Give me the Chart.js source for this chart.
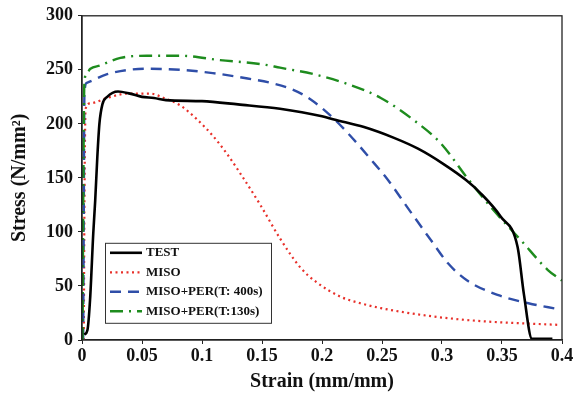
<!DOCTYPE html>
<html>
<head>
<meta charset="utf-8">
<script src="https://cdn.jsdelivr.net/npm/chart.js@4.4.1/dist/chart.umd.min.js"></script>
<style>
html,body{margin:0;padding:0;background:#fff;}
#wrap{width:579px;height:395px;position:relative;}
</style>
</head>
<body>
<div id="wrap"><canvas id="c" width="579" height="395"></canvas></div>
<script>
// ---- Data ----
const seriesLabels = ["TEST", "MISO", "MISO+PER(T: 400s)", "MISO+PER(T:130s)"];

const testStrain = [0.002,0.0045,0.0067,0.0094,0.011,0.0128,0.0145,0.017,0.021,0.030,0.040,0.050,0.060,0.070,0.100,0.130,0.165,0.200,0.210,0.235,0.260,0.280,0.301,0.320,0.332,0.349,0.363,0.3683,0.375,0.392];
const testStress = [5,9,37,99,129,170,200,218,225,230,228,225,224,222,221,218,214,207,204,197,187,177,163,148,136,114,86,42,1,1];

const misoStrain = [0.0015,0.002,0.003,0.007,0.021,0.038,0.057,0.068,0.082,0.096,0.109,0.121,0.132,0.1486,0.165,0.182,0.196,0.2155,0.232,0.249,0.291,0.332,0.397];
const misoStress = [0,120,214,219,224,228,228,224,217,204,189,172,154,125,94,67,53,40,34,29.5,22,17.5,14];

const per400Strain = [0.001,0.0015,0.002,0.004,0.021,0.054,0.082,0.109,0.138,0.157,0.175,0.190,0.2096,0.226,0.240,0.255,0.271,0.291,0.305,0.321,0.347,0.372,0.397];
const per400Stress = [0,120,228,238,246,251,250,247,242,238,232,223,205,186,168,148,123,92,71,55,41.5,34,28.6];

const per130Strain = [0.0005,0.001,0.002,0.004,0.007,0.015,0.032,0.054,0.082,0.115,0.151,0.165,0.193,0.221,0.249,0.277,0.299,0.321,0.343,0.366,0.388,0.400];
const per130Stress = [0,120,238,247,251,254,261,263,263,259,255,252,246,237,224,203,182,150,120,92,65,55];

const xTicks = [0,0.05,0.1,0.15,0.2,0.25,0.3,0.35,0.4];
const yTicks = [0,50,100,150,200,250,300];

// ---- build ----
const pts = (xs, ys) => xs.map((x, i) => ({x: x, y: ys[i]}));
const styles = [
  {color:'#000000', width:2.6, dash:[]},
  {color:'#e8302a', width:2.2, dash:[2,3.5]},
  {color:'#2f4ea8', width:2.4, dash:[11,7]},
  {color:'#1e8c1e', width:2.4, dash:[13,6,2,6]}
];
const allData = [pts(testStrain,testStress), pts(misoStrain,misoStress), pts(per400Strain,per400Stress), pts(per130Strain,per130Stress)];
const datasets = allData.map((d,i)=>({
  label: seriesLabels[i], data: d,
  borderColor: styles[i].color, backgroundColor: styles[i].color,
  borderWidth: styles[i].width, borderDash: styles[i].dash,
  pointRadius: 0, fill: false, cubicInterpolationMode: 'monotone',
  order: i===0 ? 0 : 4-i
}));

const serif = "'Liberation Serif','Times New Roman',serif";

const framePlugin = {
  id: 'frame',
  afterDatasetsDraw(chart) {
    const {ctx, chartArea: a} = chart;
    ctx.save();
    ctx.strokeStyle = '#222';
    ctx.lineWidth = 1.3;
    ctx.strokeRect(a.left, a.top, a.right - a.left, a.bottom - a.top);
    ctx.restore();
  }
};

const legendPlugin = {
  id: 'boxLegend',
  afterDraw(chart) {
    const {ctx, chartArea: a} = chart;
    const bx = a.left + 23, by = a.top + 227, bw = 166, bh = 80;
    ctx.save();
    ctx.fillStyle = '#fff';
    ctx.fillRect(bx, by, bw, bh);
    ctx.strokeStyle = '#333';
    ctx.lineWidth = 1;
    ctx.strokeRect(bx + 0.5, by + 0.5, bw, bh);
    ctx.font = "bold 13px " + serif;
    ctx.textBaseline = 'middle';
    ctx.fillStyle = '#111';
    chart.data.datasets.forEach((ds, i) => {
      const y = by + 10 + i * 19.5;
      ctx.beginPath();
      ctx.strokeStyle = ds.borderColor;
      ctx.lineWidth = ds.borderWidth;
      ctx.setLineDash(ds.borderDash);
      ctx.moveTo(bx + 5, y);
      ctx.lineTo(bx + 37, y);
      ctx.stroke();
      ctx.setLineDash([]);
      ctx.fillStyle = '#111';
      ctx.fillText(ds.label, bx + 41, y);
    });
    ctx.restore();
  }
};

new Chart(document.getElementById('c'), {
  type: 'line',
  data: { datasets: datasets },
  options: {
    responsive: false,
    animation: false,
    layout: { padding: { left: 0, right: 17, top: 15, bottom: 0 } },
    plugins: { legend: { display: false }, tooltip: { enabled: false } },
    scales: {
      x: {
        type: 'linear', min: 0, max: 0.4,
        afterBuildTicks: s => { s.ticks = xTicks.map(v => ({value: v})); },
        afterFit: s => { s.height = 55; },
        ticks: { font: { family: serif, size: 18, weight: 'bold' }, color: '#111', padding: 2, maxRotation: 0,
                 callback: v => String(+v.toFixed(2)) },
        grid: { display: true, drawOnChartArea: false, drawTicks: true, tickLength: 4, color: '#222' },
        border: { display: true, color: '#222', width: 1.3 },
        title: { display: true, text: 'Strain (mm/mm)', font: { family: serif, size: 20, weight: 'bold' }, color: '#111', padding: 1 }
      },
      y: {
        min: 0, max: 300,
        afterBuildTicks: s => { s.ticks = yTicks.map(v => ({value: v})); },
        afterFit: s => { s.width = 82; },
        ticks: { font: { family: serif, size: 18, weight: 'bold' }, color: '#111', padding: 5 },
        grid: { display: true, drawOnChartArea: false, drawTicks: true, tickLength: 4, color: '#222' },
        border: { display: true, color: '#222', width: 1.3 },
        title: { display: true, text: 'Stress (N/mm²)', font: { family: serif, size: 20, weight: 'bold' }, color: '#111', padding: 8 }
      }
    }
  },
  plugins: [framePlugin, legendPlugin]
});
</script>
</body>
</html>
